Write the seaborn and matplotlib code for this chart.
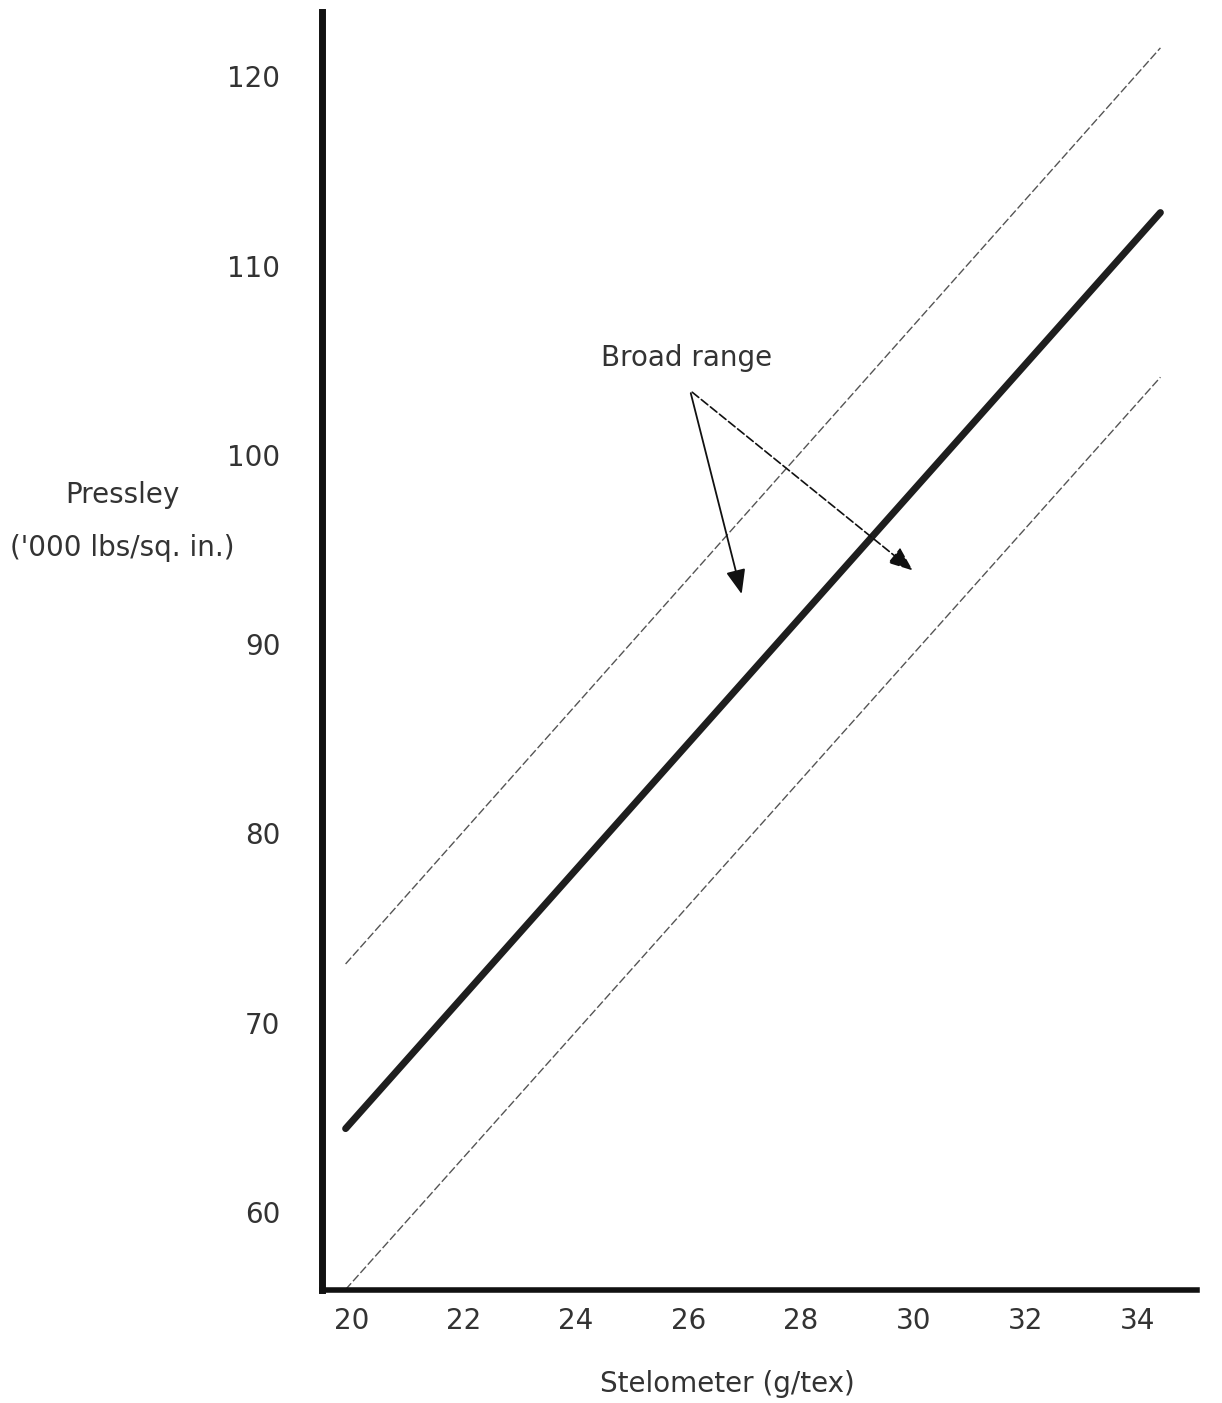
import pandas as pd
import matplotlib
matplotlib.use('Agg')
import matplotlib.pyplot as plt
import seaborn as sns

#Data
#stelometer end points of each line (g/tex)
Stelometer = [19.9, 34.4]
#centre regression line (Pressley '000 lbs/sq. in.)
Pressley_mid = [64.4, 112.8]
#upper and lower limits of the broad range
Pressley_upper = [73.1, 121.5]
Pressley_lower = [55.9, 104.1]
#tick labels
x_ticks = [20, 22, 24, 26, 28, 30, 32, 34]
y_ticks = [60, 70, 80, 90, 100, 110, 120]
#annotation
label_pos = (25.96, 105.1)
arrow_tips = [(26.96, 92.5), (30.03, 93.8)]
arrow_base = (26.03, 103.4)

df = pd.DataFrame({'Stelometer': Stelometer, 'mid': Pressley_mid,
                   'upper': Pressley_upper, 'lower': Pressley_lower})

sns.set_style('white')
plt.rcParams['font.family'] = ['DejaVu Sans']

fig = plt.figure(figsize=(12.22, 14.03), dpi=100)
ax = fig.add_axes([0.2635, 0.0805, 0.716, 0.911])

txt = '#333333'
sns.lineplot(x='Stelometer', y='mid', data=df, ax=ax, color='#1e1e1e', linewidth=5)
sns.lineplot(x='Stelometer', y='upper', data=df, ax=ax, color='#555555',
             linewidth=1.0, linestyle=(0, (6, 2)))
sns.lineplot(x='Stelometer', y='lower', data=df, ax=ax, color='#555555',
             linewidth=1.0, linestyle=(0, (6, 2)))

ax.set_xlim(19.48, 35.05)
ax.set_ylim(55.87, 123.4)
ax.set_xticks(x_ticks)
ax.set_yticks(y_ticks)
ax.tick_params(axis='both', length=0, labelsize=20, labelcolor=txt)
ax.tick_params(axis='y', pad=30)
ax.tick_params(axis='x', pad=12)
ax.set_xlabel('')
ax.set_ylabel('')

for s in ['top', 'right']:
    ax.spines[s].set_visible(False)
ax.spines['left'].set_linewidth(5)
ax.spines['bottom'].set_linewidth(4)
ax.spines['left'].set_color('#111111')
ax.spines['bottom'].set_color('#111111')

#broad range label and arrows
ax.text(label_pos[0], label_pos[1], 'Broad range', fontsize=20, color=txt,
        ha='center', va='center')
ax.annotate('', xy=arrow_tips[0], xytext=arrow_base,
            arrowprops=dict(arrowstyle='-|>,head_length=1.5,head_width=0.6',
                            color='#111111', lw=1.3))
ax.annotate('', xy=arrow_tips[1], xytext=arrow_base,
            arrowprops=dict(arrowstyle='-|>,head_length=1.5,head_width=0.6',
                            color='#111111', lw=1.2, linestyle=(0, (5, 2))))

fig.text(122 / 1222, 1 - 495 / 1403, 'Pressley', fontsize=20, color=txt,
         ha='center', va='center')
fig.text(122 / 1222, 1 - 548 / 1403, "('000 lbs/sq. in.)", fontsize=20, color=txt,
         ha='center', va='center')
fig.text(727 / 1222, 1 - 1384 / 1403, 'Stelometer (g/tex)', fontsize=20, color=txt,
         ha='center', va='center')

fig.savefig('out.png', dpi=100)
